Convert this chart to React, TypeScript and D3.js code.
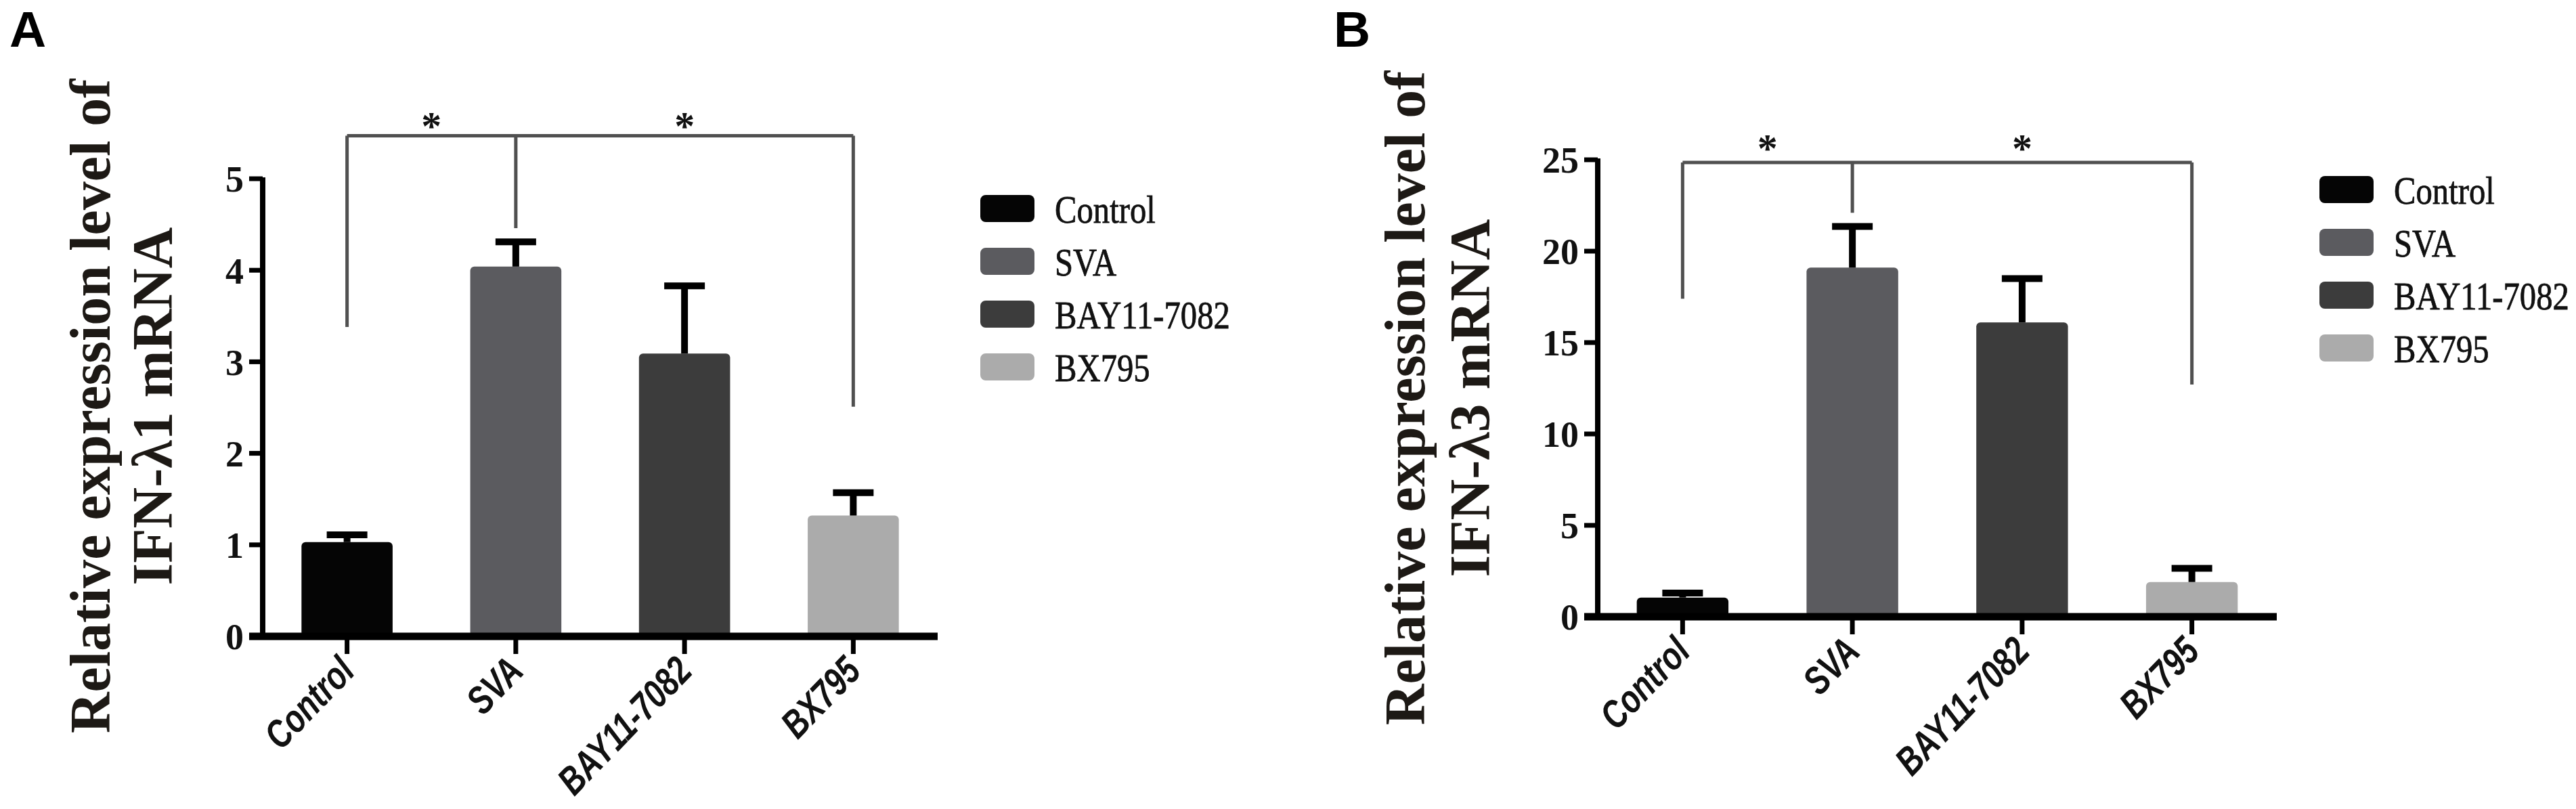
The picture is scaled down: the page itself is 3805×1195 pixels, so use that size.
import React from 'react'
import * as d3 from 'd3'

// groups and colours shared by both panels
const groups = ['Control', 'SVA', 'BAY11-7082', 'BX795']
const barColors = ['#050505', '#5b5b5f', '#3c3c3c', '#ababab']

// panel A: IFN-λ1
const lambda1Mean = [1.03, 4.04, 3.09, 1.32]
const lambda1Err = [0.08, 0.27, 0.74, 0.25]
const lambda1Ticks = [0, 1, 2, 3, 4, 5]
// bracket: top level, leg ends for Control / SVA / BX795, star level
const lambda1Bracket = { top: 5.47, legs: [3.38, 4.46, 2.51], star: 5.65 }

// panel B: IFN-λ3
const lambda3Mean = [1.05, 19.1, 16.1, 1.9]
const lambda3Err = [0.25, 2.25, 2.4, 0.75]
const lambda3Ticks = [0, 5, 10, 15, 20, 25]
const lambda3Bracket = { top: 24.85, legs: [17.4, 22.1, 12.7], star: 26.0 }

interface Layout {
  axisX: number
  y0: number
  yTop: number
  plotW: number
  letterX: number
  title1X: number
  title2X: number
  titleY: number
  legendX: number
}

interface PanelProps {
  letter: string
  mean: number[]
  err: number[]
  ticks: number[]
  bracket: { top: number; legs: number[]; star: number }
  titleLine2: string
  layout: Layout
}

const serif = "'Liberation Serif', 'Times New Roman', serif"

const Panel = ({ letter, mean, err, ticks, bracket, titleLine2, layout }: PanelProps) => {
  const { axisX, y0, yTop, plotW, letterX, title1X, title2X, titleY, legendX } = layout
  const xScale = d3
    .scaleBand()
    .domain(groups)
    .range([axisX, axisX + plotW])
    .paddingInner(0.46)
    .paddingOuter(0.23)
  const yScale = d3
    .scaleLinear()
    .domain([ticks[0], ticks[ticks.length - 1]])
    .range([y0, yTop])
  const bw = xScale.bandwidth()
  const cx = (g: string) => (xScale(g) as number) + bw / 2

  // bracket legs: Control, SVA, BX795
  const legGroups = [groups[0], groups[1], groups[3]]
  const bracketTop = yScale(bracket.top)
  const starY = yScale(bracket.star)

  return (
    <g>
      <text
        x={letterX}
        y={69}
        fontFamily="'Liberation Sans', Arial, sans-serif"
        fontWeight="bold"
        fontSize={75}
        fill="#000"
      >
        {letter}
      </text>

      {/* y title */}
      <text
        transform={`translate(${title1X}, ${titleY}) rotate(-90)`}
        textAnchor="middle"
        fontFamily={serif}
        fontWeight="bold"
        fontSize={84}
        fill="#1d1915"
      >
        Relative expression level of
      </text>
      <text
        transform={`translate(${title2X}, ${titleY}) rotate(-90)`}
        textAnchor="middle"
        fontFamily={serif}
        fontWeight="bold"
        fontSize={84}
        fill="#1d1915"
      >
        {titleLine2}
      </text>

      {/* bars */}
      {groups.map((g, i) => (
        <rect
          key={g}
          x={xScale(g)}
          y={yScale(mean[i])}
          width={bw}
          height={y0 - yScale(mean[i])}
          rx={6}
          fill={barColors[i]}
        />
      ))}

      {/* error bars */}
      {groups.map((g, i) => (
        <g key={g} stroke="#000" strokeWidth={10}>
          <line x1={cx(g)} x2={cx(g)} y1={yScale(mean[i])} y2={yScale(mean[i] + err[i])} />
          <line
            x1={cx(g) - 30}
            x2={cx(g) + 30}
            y1={yScale(mean[i] + err[i])}
            y2={yScale(mean[i] + err[i])}
          />
        </g>
      ))}

      {/* y axis */}
      <line x1={axisX} x2={axisX} y1={yTop - 2} y2={y0} stroke="#000" strokeWidth={8} />
      {ticks.map((t) => (
        <g key={t}>
          <line x1={axisX - 20} x2={axisX} y1={yScale(t)} y2={yScale(t)} stroke="#000" strokeWidth={7} />
          <text
            x={axisX - 28}
            y={yScale(t)}
            dy="0.36em"
            textAnchor="end"
            fontFamily={serif}
            fontWeight="bold"
            fontSize={54}
            fill="#111"
          >
            {t}
          </text>
        </g>
      ))}

      {/* x axis */}
      <line x1={axisX - 20} x2={axisX + plotW} y1={y0} y2={y0} stroke="#000" strokeWidth={11} />
      {groups.map((g) => (
        <g key={g}>
          <line x1={cx(g)} x2={cx(g)} y1={y0} y2={y0 + 26} stroke="#000" strokeWidth={7} />
          <text
            transform={`translate(${cx(g) + 14}, ${y0 + 54}) rotate(-46) scale(0.78, 1)`}
            textAnchor="end"
            fontFamily="'Liberation Sans', Arial, sans-serif"
            fontWeight="bold"
            fontStyle="italic"
            fontSize={58}
            fill="#111"
          >
            {g}
          </text>
        </g>
      ))}

      {/* significance bracket */}
      <g stroke="#505050" strokeWidth={5} fill="none">
        <line x1={cx(legGroups[0])} x2={cx(legGroups[2])} y1={bracketTop} y2={bracketTop} />
        {legGroups.map((g, i) => (
          <line key={g} x1={cx(g)} x2={cx(g)} y1={bracketTop} y2={yScale(bracket.legs[i])} />
        ))}
      </g>
      {[0, 1].map((k) => (
        <text
          key={k}
          x={(cx(legGroups[k]) + cx(legGroups[k + 1])) / 2}
          y={starY + 30}
          textAnchor="middle"
          fontFamily={serif}
          fontWeight="bold"
          fontSize={60}
          fill="#111"
        >
          *
        </text>
      ))}

      {/* legend */}
      {groups.map((g, i) => (
        <g key={g} transform={`translate(${legendX}, ${yTop + 44 + i * 78})`}>
          <rect x={0} y={-20} width={80} height={40} rx={8} fill={barColors[i]} />
          <text
            transform="translate(110, 0) scale(0.84, 1)"
            dy="0.36em"
            fontFamily={serif}
            fontSize={58}
            fill="#111"
            stroke="#111"
            strokeWidth={0.8}
          >
            {g}
          </text>
        </g>
      ))}
    </g>
  )
}

const layoutA: Layout = {
  axisX: 388,
  y0: 940,
  yTop: 264,
  plotW: 997,
  letterX: 14,
  title1X: 162,
  title2X: 254,
  titleY: 600,
  legendX: 1448,
}

const layoutB: Layout = {
  axisX: 2360,
  y0: 911,
  yTop: 236,
  plotW: 1003,
  letterX: 1970,
  title1X: 2104,
  title2X: 2200,
  titleY: 588,
  legendX: 3426,
}

const App = () => {
  return (
    <svg
      width={3805}
      height={1195}
      style={{ position: 'absolute', left: 0, top: 0, background: '#fff' }}
    >
      <rect width={3805} height={1195} fill="#fff" />
      <Panel
        letter="A"
        mean={lambda1Mean}
        err={lambda1Err}
        ticks={lambda1Ticks}
        bracket={lambda1Bracket}
        titleLine2="IFN-λ1 mRNA"
        layout={layoutA}
      />
      <Panel
        letter="B"
        mean={lambda3Mean}
        err={lambda3Err}
        ticks={lambda3Ticks}
        bracket={lambda3Bracket}
        titleLine2="IFN-λ3 mRNA"
        layout={layoutB}
      />
    </svg>
  )
}

export default App
